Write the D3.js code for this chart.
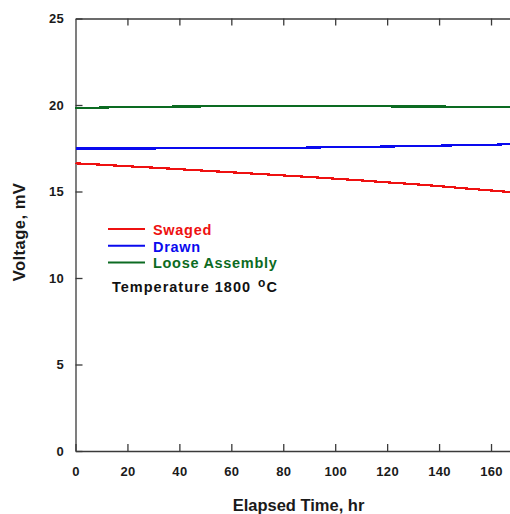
<!DOCTYPE html>
<html>
<head>
<meta charset="utf-8">
<script src="https://cdn.jsdelivr.net/npm/d3@7"></script>
<style>
  html, body { margin: 0; padding: 0; background: #fff; }
  svg { display: block; font-family: "Liberation Sans", Arial, sans-serif; font-weight: bold; }
</style>
</head>
<body>
<svg id="chart" width="510" height="514"></svg>
<script>
// Elapsed time (hr) at which each reading was taken
const hours = [0, 10, 20, 30, 40, 50, 60, 70, 80, 90, 100, 110, 120, 130, 140, 150, 160, 168];

// Thermocouple output (mV) for each sheath construction
const swaged = [16.63, 16.55, 16.46, 16.38, 16.29, 16.20, 16.11, 16.02, 15.93, 15.84, 15.74, 15.64, 15.53, 15.43, 15.31, 15.18, 15.06, 14.96];
const drawn  = [17.49, 17.49, 17.49, 17.49, 17.50, 17.50, 17.51, 17.51, 17.52, 17.54, 17.56, 17.58, 17.60, 17.62, 17.65, 17.68, 17.70, 17.74];
const loose  = [19.84, 19.85, 19.89, 19.90, 19.91, 19.92, 19.94, 19.95, 19.96, 19.96, 19.96, 19.95, 19.92, 19.91, 19.91, 19.90, 19.90, 19.90];

const seriesNames  = ["Swaged", "Drawn", "Loose Assembly"];
const seriesColors = ["#ee1111", "#0a0aee", "#0c6b22"];
const xTicks = [0, 20, 40, 60, 80, 100, 120, 140, 160];
const yTicks = [0, 5, 10, 15, 20, 25];
const xTitle = "Elapsed Time, hr";
const yTitle = "Voltage, mV";
const noteText = "Temperature 1800 ";
const noteUnit = "C";

const svg = d3.select("#chart");

const x = d3.scaleLinear().domain([0, 168]).range([75.5, 75.5 + 168 * 2.597]);
const y = d3.scaleLinear().domain([0, 25]).range([451, 18.5]);

const axisColor = "#3a3a3a";
const labelColor = "#1a1a1a";

// Left axis, ticks pointing into the plot
const gy = svg.append("g")
  .attr("transform", `translate(${x(0)},0)`)
  .call(d3.axisLeft(y).tickValues(yTicks).tickSize(-7).tickSizeOuter(0).tickPadding(11.5));

// Bottom axis
const gx = svg.append("g")
  .attr("transform", `translate(0,${y(0)})`)
  .call(d3.axisBottom(x).tickValues(xTicks).tickSize(-7).tickSizeOuter(0).tickPadding(16));

// Top frame with inward ticks, no labels
const gt = svg.append("g")
  .attr("transform", `translate(0,${y(25)})`)
  .call(d3.axisTop(x).tickValues(xTicks.slice(1)).tickSize(-7).tickSizeOuter(0).tickFormat(""));

[gx, gy, gt].forEach(g => {
  g.selectAll(".domain").attr("stroke", axisColor).attr("stroke-width", 1.3);
  g.selectAll(".tick line").attr("stroke", axisColor).attr("stroke-width", 1.3);
  g.selectAll(".tick text")
    .attr("fill", labelColor)
    .style("font-family", '"Liberation Sans", Arial, sans-serif')
    .style("font-weight", "bold")
    .style("font-size", "13px")
    .style("letter-spacing", "0.3px");
});

// Data lines
const allSeries = [swaged, drawn, loose];
const line = d3.line().x((d, i) => x(hours[i])).y(d => y(d));

svg.append("g").selectAll("path")
  .data([loose, drawn, swaged])
  .join("path")
  .attr("d", d => line(d))
  .attr("fill", "none")
  .attr("stroke", d => seriesColors[allSeries.indexOf(d)])
  .attr("stroke-width", 2.2)
  .attr("shape-rendering", "crispEdges");

// Legend
const legend = svg.append("g");
seriesNames.forEach((name, i) => {
  const ly = 229 + i * 16.7;
  legend.append("line")
    .attr("x1", 108).attr("x2", 145)
    .attr("y1", ly).attr("y2", ly)
    .attr("stroke", seriesColors[i])
    .attr("stroke-width", 2);
  legend.append("text")
    .attr("x", 153).attr("y", ly + 6)
    .attr("fill", seriesColors[i])
    .style("font-size", "14.5px")
    .style("letter-spacing", "0.7px")
    .text(name);
});

const note = legend.append("text")
  .attr("x", 112).attr("y", 291.5)
  .attr("fill", "#111")
  .style("font-size", "14.5px")
  .style("letter-spacing", "1px")
  .text(noteText);
note.append("tspan").attr("dx", 2).attr("dy", -5).style("font-size", "12px").text("o");
note.append("tspan").attr("dy", 5).text(noteUnit);

// Axis titles
svg.append("text")
  .attr("x", 298.5).attr("y", 511)
  .attr("text-anchor", "middle")
  .attr("fill", labelColor)
  .style("font-size", "16.5px")
  .text(xTitle);

svg.append("text")
  .attr("transform", "translate(25,232) rotate(-90)")
  .attr("text-anchor", "middle")
  .attr("fill", labelColor)
  .style("font-size", "16.5px")
  .style("letter-spacing", "0.5px")
  .text(yTitle);
</script>
</body>
</html>
